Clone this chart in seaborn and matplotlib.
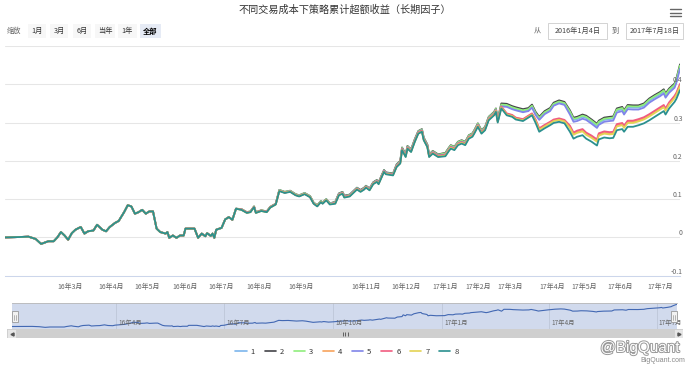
import pandas as pd
import matplotlib
matplotlib.use('Agg')
import matplotlib.pyplot as plt
import matplotlib.dates as mdates
import matplotlib.patheffects as pe
from matplotlib.lines import Line2D
from matplotlib.patches import Rectangle
from matplotlib.transforms import offset_copy
import seaborn as sns

title = '不同交易成本下策略累计超额收益（长期因子）'
names = ['1', '2', '3', '4', '5', '6', '7', '8']
colors = ['#7cb5ec', '#434348', '#90ed7d', '#f7a35c', '#8085e9', '#f15c80', '#e4d354', '#2b908f']

# A-share holidays, the x axis is ordinal (trading days only)
holidays = ['2016-02-08', '2016-02-09', '2016-02-10', '2016-02-11', '2016-02-12', '2016-04-04',
            '2016-05-02', '2016-06-09', '2016-06-10', '2016-09-15', '2016-09-16', '2016-10-03',
            '2016-10-04', '2016-10-05', '2016-10-06', '2016-10-07', '2017-01-02', '2017-01-27',
            '2017-01-30', '2017-01-31', '2017-02-01', '2017-02-02', '2017-04-03', '2017-04-04',
            '2017-05-01', '2017-05-29', '2017-05-30']

# sample points, as trading-day number (0 = 2016-01-04)
day = [0, 8, 13, 17, 20, 24, 27, 29, 31, 33, 35, 37, 39, 41, 42, 44, 46, 49, 51, 54,
       56, 58, 61, 63, 66, 68, 70, 72, 74, 76, 78, 80, 82, 84, 86, 89, 90, 91, 93, 95,
       97, 99, 100, 105, 107, 109, 111, 112, 114, 115, 116, 117, 120, 122, 124, 126, 128,
       131, 134, 136, 138, 139, 142, 145, 147, 150,
       152, 155, 158, 161, 163, 166, 169, 171, 173, 175, 176, 178, 180,
       183, 185, 187, 188, 191, 195, 197, 199, 200, 202, 204, 206, 207, 210, 211, 215,
       217, 219, 220, 222, 223, 225, 227, 229, 231, 232, 234, 235, 237, 240,
       244, 246, 247, 249, 251, 253, 255, 257, 259, 260, 262, 264, 266, 268, 271, 272, 273,
       275, 278, 281, 283, 287, 290, 292, 294, 296, 299, 302, 304, 307, 310,
       313, 315, 317, 320, 322, 325, 328, 329, 332, 335, 337, 339, 342, 343, 345, 348, 351,
       354, 357, 360, 363, 365, 366, 368, 371, 372, 374]

# until late July 2016 all eight series coincide
common = [0.000, 0.001, 0.002, -0.004, -0.017, -0.010, -0.010, 0.000, 0.014, 0.005,
          -0.006, 0.011, 0.020, 0.025, 0.027, 0.010, 0.016, 0.018, 0.033, 0.020,
          0.016, 0.027, 0.038, 0.043, 0.066, 0.084, 0.081, 0.062, 0.066, 0.072,
          0.062, 0.068, 0.068, 0.023, 0.014, 0.010, 0.014, -0.001, 0.005, -0.001,
          0.005, 0.005, 0.023, 0.023, -0.001, 0.010, 0.003, 0.011, 0.004, 0.010,
          -0.001, 0.020, 0.025, 0.047, 0.053, 0.046, 0.075]

s1 = [.073, .065, .067, .080, .065, .070, .067, .079, .087,
      .123, .118, .121, .112, .109, .115, .107, .090, .083, .094, .090, .099, .088,
      .092, .114, .118, .108, .111, .129, .123, .129, .134, .127, .143, .149, .143, .175, .169, .166,
      .189, .198, .233, .215, .237, .228, .254, .276, .281, .259, .241, .215, .224, .215,
      .218, .232, .238, .234, .247, .251, .247, .264, .269, .277, .295, .277, .286, .312, .325, .334, .306,
      .344, .343, .337, .334, .329, .332, .341, .322, .309, .324, .332, .346, .352, .348,
      .326, .307, .309, .315, .312, .302, .291, .299, .307, .309, .310, .331, .335, .326, .340, .339, .339,
      .344, .357, .366, .374, .381, .370, .383, .396, .409, .446]
s2 = [.074, .066, .068, .081, .066, .071, .068, .080, .088,
      .124, .119, .122, .113, .110, .116, .108, .091, .084, .095, .091, .100, .089,
      .093, .115, .119, .109, .112, .130, .124, .130, .135, .128, .144, .150, .144, .176, .170, .167,
      .191, .200, .235, .217, .239, .230, .256, .278, .283, .261, .243, .217, .226, .217,
      .221, .235, .241, .237, .250, .254, .250, .267, .272, .280, .298, .280, .289, .315, .328, .337, .309,
      .350, .349, .343, .340, .335, .338, .347, .328, .315, .330, .338, .352, .358, .354,
      .332, .313, .315, .321, .318, .308, .297, .305, .313, .315, .316, .337, .341, .332, .346, .345, .345,
      .350, .363, .372, .380, .387, .376, .389, .402, .415, .452]
s3 = [.074, .066, .068, .081, .066, .071, .068, .080, .088,
      .124, .119, .122, .113, .110, .116, .108, .091, .084, .095, .091, .100, .089,
      .092, .114, .118, .108, .111, .129, .123, .129, .134, .127, .143, .149, .143, .175, .169, .166,
      .190, .199, .234, .216, .238, .229, .255, .277, .282, .260, .242, .216, .225, .216,
      .220, .234, .240, .236, .249, .253, .249, .266, .271, .279, .297, .279, .288, .314, .327, .336, .308,
      .347, .346, .340, .337, .332, .335, .344, .325, .312, .327, .335, .349, .355, .351,
      .329, .310, .312, .318, .315, .305, .294, .302, .310, .312, .313, .334, .338, .329, .343, .342, .342,
      .347, .360, .369, .377, .384, .373, .386, .399, .412, .449]
s4 = [.073, .065, .067, .080, .065, .070, .067, .079, .087,
      .122, .117, .120, .111, .108, .114, .106, .089, .082, .093, .089, .098, .087,
      .090, .112, .116, .106, .109, .127, .121, .127, .132, .125, .141, .147, .141, .173, .167, .164,
      .186, .195, .230, .212, .234, .225, .251, .273, .278, .256, .238, .212, .221, .212,
      .215, .229, .235, .231, .244, .248, .244, .261, .266, .274, .292, .274, .283, .309, .322, .331, .303,
      .341, .323, .319, .312, .308, .317, .323, .306, .283, .292, .300, .306, .309, .305,
      .289, .271, .276, .280, .271, .263, .253, .269, .274, .272, .273, .293, .296, .289, .302, .302, .306,
      .311, .319, .328, .337, .343, .334, .350, .367, .375, .398]
s5 = [.073, .065, .067, .080, .065, .070, .067, .079, .087,
      .123, .118, .121, .112, .109, .115, .107, .090, .083, .094, .090, .099, .088,
      .091, .113, .117, .107, .110, .128, .122, .128, .133, .126, .142, .148, .142, .174, .168, .165,
      .188, .197, .232, .214, .236, .227, .253, .275, .280, .258, .240, .214, .223, .214,
      .217, .231, .237, .233, .246, .250, .246, .263, .268, .276, .294, .276, .285, .311, .324, .333, .305,
      .342, .341, .335, .332, .327, .330, .339, .320, .307, .322, .330, .344, .350, .346,
      .321, .302, .304, .310, .307, .297, .286, .294, .302, .304, .305, .326, .330, .321, .335, .334, .334,
      .339, .352, .361, .369, .376, .365, .378, .391, .404, .441]
s6 = [.073, .065, .067, .080, .065, .070, .067, .079, .087,
      .122, .117, .120, .111, .108, .114, .106, .089, .082, .093, .089, .098, .087,
      .090, .112, .116, .106, .109, .127, .121, .127, .132, .125, .141, .147, .141, .173, .167, .164,
      .187, .196, .231, .213, .235, .226, .252, .274, .279, .257, .239, .213, .222, .213,
      .216, .230, .236, .232, .245, .249, .245, .262, .267, .275, .293, .275, .284, .310, .323, .332, .304,
      .342, .324, .320, .313, .309, .318, .324, .308, .285, .294, .302, .308, .311, .307,
      .292, .274, .279, .283, .274, .266, .256, .272, .277, .275, .276, .296, .299, .292, .305, .305, .309,
      .314, .322, .331, .340, .346, .337, .353, .370, .378, .401]
s7 = [.072, .064, .066, .079, .064, .069, .066, .078, .086,
      .122, .117, .120, .111, .108, .114, .106, .089, .082, .093, .089, .098, .087,
      .089, .111, .115, .105, .108, .126, .120, .126, .131, .124, .140, .146, .140, .172, .166, .163,
      .185, .194, .229, .211, .233, .224, .250, .272, .277, .255, .237, .211, .220, .211,
      .214, .228, .234, .230, .243, .247, .243, .260, .265, .273, .291, .273, .282, .308, .321, .330, .302,
      .339, .321, .317, .310, .306, .315, .321, .304, .281, .290, .298, .304, .307, .303,
      .286, .268, .273, .277, .268, .260, .250, .266, .271, .269, .270, .290, .293, .286, .299, .299, .303,
      .308, .316, .325, .334, .340, .331, .347, .364, .372, .395]
s8 = [.072, .064, .066, .079, .064, .069, .066, .078, .086,
      .121, .116, .119, .110, .107, .113, .105, .088, .081, .092, .088, .097, .086,
      .088, .110, .114, .104, .107, .125, .119, .125, .130, .123, .139, .145, .139, .171, .165, .162,
      .184, .193, .228, .210, .232, .223, .249, .271, .276, .254, .236, .210, .219, .210,
      .212, .226, .232, .228, .241, .245, .241, .258, .263, .271, .289, .271, .280, .306, .319, .328, .300,
      .337, .319, .315, .308, .304, .313, .319, .299, .276, .285, .293, .299, .302, .298,
      .276, .258, .263, .267, .258, .250, .240, .256, .261, .259, .260, .280, .283, .276, .289, .289, .293,
      .298, .306, .315, .324, .330, .321, .337, .354, .362, .385]

month_ticks = ['2016-03', '2016-04', '2016-05', '2016-06', '2016-07', '2016-08', '2016-09',
               '2016-11', '2016-12', '2017-01', '2017-02', '2017-03', '2017-04', '2017-05',
               '2017-06', '2017-07']
month_labels = ['16年3月', '16年4月', '16年5月', '16年6月', '16年7月', '16年8月', '16年9月',
                '16年11月', '16年12月', '17年1月', '17年2月', '17年3月', '17年4月', '17年5月',
                '17年6月', '17年7月']
nav_ticks = ['2016-04-01', '2016-07-01', '2016-10-01', '2017-01-01', '2017-04-01', '2017-07-01']
nav_labels = ['16年4月', '16年7月', '16年10月', '17年1月', '17年4月', '17年7月']
y_ticks = [-0.1, 0, 0.1, 0.2, 0.3, 0.4, 0.5]
y_labels = ['-0.1', '0', '0.1', '0.2', '0.3', '0.4', '']
buttons = ['1月', '3月', '6月', '当年', '1年', '全部']
date_from, date_to = '2016年1月4日', '2017年7月18日'

trading = pd.bdate_range('2016-01-04', '2017-07-18')
trading = trading[~trading.isin(pd.to_datetime(holidays))]

series = [s1, s2, s3, s4, s5, s6, s7, s8]
df = pd.concat([pd.DataFrame({'day': day, 'value': common + s, 'series': n})
                for n, s in zip(names, series)], ignore_index=True)

sns.set_style('white')
plt.rcParams['font.family'] = ['Noto Sans CJK SC', 'DejaVu Sans']

W, H = 690, 366
fig = plt.figure(figsize=(W / 100, H / 100), dpi=100)


def box(x0, y0, x1, y1):
    # pixel box (top-left origin) -> figure rect
    return [x0 / W, 1 - y1 / H, (x1 - x0) / W, (y1 - y0) / H]


def fx(x):
    return x / W


def fy(y):
    return 1 - y / H


# main chart
ax = fig.add_axes(box(5, 46, 680, 275.7))
sns.lineplot(data=df, x='day', y='value', hue='series', hue_order=names, palette=colors,
             estimator=None, linewidth=1.3, legend=False, ax=ax)
ax.set_xlim(0, len(trading) - 1)
ax.set_ylim(-0.1, 0.5)
ax.set_yticks(y_ticks)
ax.grid(axis='y', color='#e6e6e6', linewidth=0.75)
ax.grid(axis='x', visible=False)
ax.tick_params(axis='y', length=0, labelleft=False)
for v, lab in zip(y_ticks, y_labels):
    ax.text(1.004, v, lab, transform=ax.get_yaxis_transform(), ha='right', va='bottom',
            fontsize=5, color='#666666')
ax.set_xticks([trading.searchsorted(pd.Timestamp(m)) for m in month_ticks])
ax.set_xticklabels(month_labels)
ax.tick_params(axis='x', length=3, width=0.7, color='#ccd6eb', pad=2, labelsize=5,
               labelcolor='#666666')
ax.set_xlabel('')
ax.set_ylabel('')
sns.despine(ax=ax, left=True)
ax.spines['bottom'].set_color('#ccd6eb')
ax.spines['bottom'].set_linewidth(0.75)

# navigator (time-linear axis, first series)
nav = fig.add_axes(box(12, 303, 677, 329))
nav.set_facecolor('#d1daed')
nav_x = trading[day]
sns.lineplot(x=nav_x, y=common + s1, color='#4268b3', linewidth=0.8, ax=nav)
nav.set_xlim(trading[0], trading[-1])
nav.set_ylim(-0.05, 0.47)
nav.set_xticks(mdates.date2num(pd.to_datetime(nav_ticks)))
nav.set_yticks([])
nav.set_xlabel('')
nav.set_ylabel('')
nav.grid(axis='x', color='#c0c9db', linewidth=0.7)
nav.tick_params(axis='x', length=0, labelbottom=False)
for sp in ['left', 'right']:
    nav.spines[sp].set_visible(False)
for sp in ['top', 'bottom']:
    nav.spines[sp].set_color('#b8b8b8')
    nav.spines[sp].set_linewidth(0.6)
lab_tr = offset_copy(nav.get_xaxis_transform(), fig=fig, x=2, y=0, units='dots')
for d, lab in zip(nav_ticks, nav_labels):
    nav.text(mdates.date2num(pd.Timestamp(d)), 0.06, lab, transform=lab_tr, ha='left',
             va='bottom', fontsize=4.6, color='#666666')
for hx in (15, 674):
    fig.add_artist(Rectangle((fx(hx - 3), fy(322)), 6 / W, 11 / H, transform=fig.transFigure,
                             facecolor='#f2f2f2', edgecolor='#999999', linewidth=0.6))
    for lx in (hx - 1, hx + 1):
        fig.add_artist(Line2D([fx(lx), fx(lx)], [fy(319.5), fy(314.5)], color='#999999',
                              linewidth=0.5))

# scrollbar
sb = fig.add_axes(box(7, 329, 683, 338))
sb.set_facecolor('#cfcfcf')
sb.set_xlim(0, 676)
sb.set_ylim(0, 9)
sb.set_xticks([])
sb.set_yticks([])
for sp in ['left', 'right', 'top', 'bottom']:
    sb.spines[sp].set_visible(False)
sb.add_patch(Rectangle((0, 0), 9, 9, facecolor='#e6e6e6', edgecolor='#cccccc', linewidth=0.5))
sb.add_patch(Rectangle((667, 0), 9, 9, facecolor='#e6e6e6', edgecolor='#cccccc', linewidth=0.5))
sb.plot([4.5], [4.5], marker='<', markersize=2.2, color='#555555')
sb.plot([671.5], [4.5], marker='>', markersize=2.2, color='#555555')
sb.vlines([335.5, 338, 340.5], 2.5, 6.5, color='#333333', linewidth=0.5)

# legend
handles = [Line2D([], [], color=c, linewidth=1.2) for c in colors]
fig.legend(handles, names, loc='center', bbox_to_anchor=(fx(347), fy(352)), ncol=8,
           frameon=False, fontsize=5.5, handlelength=1.5, handletextpad=0.5,
           columnspacing=1.25, labelcolor='#333333')

# title and toolbar
fig.text(fx(345), fy(10), title, ha='center', va='center', fontsize=7.3, color='#333333')
fig.text(fx(7), fy(31), '缩放', ha='left', va='center', fontsize=5.2, color='#666666')
btn_x = [(28, 46), (50, 68), (73, 91), (95, 115), (118, 137), (140, 161)]
for lab, (x0, x1) in zip(buttons, btn_x):
    on = lab == '全部'
    fig.add_artist(Rectangle((fx(x0), fy(38)), (x1 - x0) / W, 14 / H, transform=fig.transFigure,
                             facecolor='#e6ebf5' if on else '#f7f7f7', edgecolor='none'))
    fig.text(fx((x0 + x1) / 2), fy(31), lab, ha='center', va='center', fontsize=5.2,
             color='#000000' if on else '#333333', fontweight='bold' if on else 'normal')
fig.text(fx(537), fy(31), '从', ha='center', va='center', fontsize=5.2, color='#666666')
fig.text(fx(615), fy(31), '到', ha='center', va='center', fontsize=5.2, color='#666666')
for txt, (x0, x1) in zip([date_from, date_to], [(548, 607), (626, 683)]):
    fig.add_artist(Rectangle((fx(x0), fy(39)), (x1 - x0) / W, 16 / H, transform=fig.transFigure,
                             facecolor='white', edgecolor='#cccccc', linewidth=0.6))
    fig.text(fx((x0 + x1) / 2), fy(31), txt, ha='center', va='center', fontsize=5.2,
             color='#444444')
for my in (9, 12.5, 16):
    fig.add_artist(Line2D([fx(670), fx(681)], [fy(my), fy(my)], color='#666666', linewidth=1.0))

# watermark
fig.text(fx(640), fy(348), '@BigQuant', ha='center', va='center', fontsize=11,
         family='Liberation Sans', color='white',
         path_effects=[pe.withStroke(linewidth=1.4, foreground='#9a9a9a')])
fig.text(fx(685), fy(361), 'BigQuant.com', ha='right', va='center', fontsize=5,
         family='Liberation Sans', color='#888888')

fig.savefig('out.png', dpi=100)
